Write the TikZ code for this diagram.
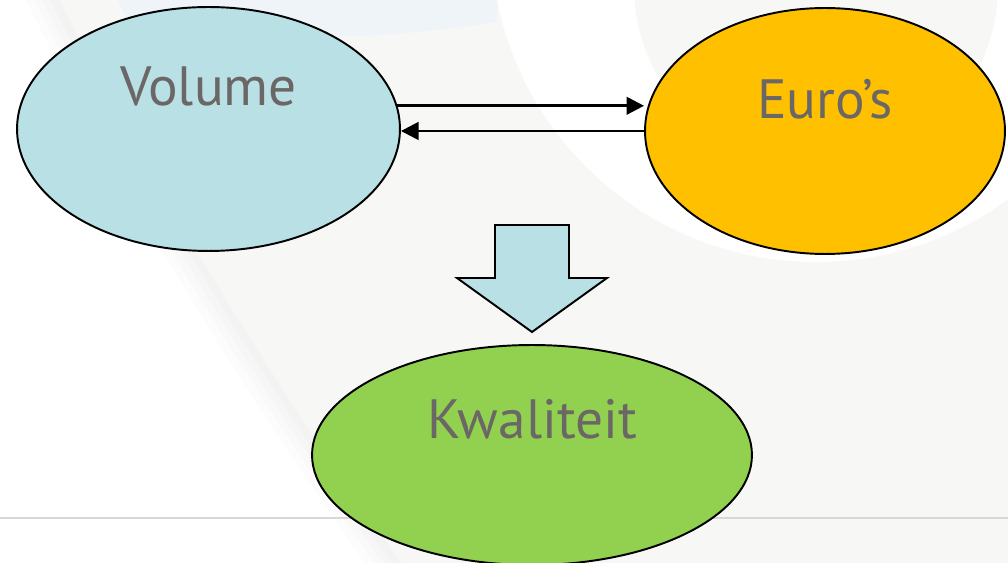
\documentclass[tikz,border=0pt]{standalone}
\usepackage{fontspec}
\setmainfont{PT Sans}
\usetikzlibrary{positioning,arrows.meta,shapes.geometric}

\definecolor{volblue}{HTML}{B9E0E4}
\definecolor{euroorange}{HTML}{FFC000}
\definecolor{kwalgreen}{HTML}{92D050}
\definecolor{txtgray}{HTML}{6B6766}
\definecolor{bggray}{HTML}{F7F7F6}
\definecolor{bandblue}{HTML}{EFF4F8}
\definecolor{rulegray}{HTML}{DCD5D5}

\begin{document}
\begin{tikzpicture}[x=0.02cm,y=-0.02cm,
  blob/.style={draw,ellipse,line width=1.1pt,inner sep=0pt},
  lbl/.style={text=txtgray,anchor=base,font=\fontsize{31.5}{36}\selectfont},
  arr/.style={line width=1.5pt,-{Triangle[length=10pt,width=10pt]}}]
\useasboundingbox (0,0) rectangle (1008,563);

% slide background
\begin{scope}
\clip (0,0) rectangle (1008,563);
\fill[white] (0,0) rectangle (1008,563);
\foreach \k in {30,22,15,8}
  \fill[black,opacity=0.012] (3821,-1899) circle (4213+\k);
\fill[bggray] (3821,-1899) circle (4213);
\fill[white] (816,-63) circle (325);
\fill[bggray] (816,-14) circle (182);
\fill[bandblue] (118,0) -- (497,0) -- (497,22) .. controls (430,32) and (380,37) .. (300,37) -- (135,37) -- cycle;
\draw[rulegray,line width=0.8pt] (0,518) -- (1008,518);
\end{scope}

% ellipses
\node[blob,fill=volblue,minimum width=7.66cm,minimum height=4.88cm] (vol) at (208.5,129) {};
\node[blob,fill=euroorange,minimum width=7.2cm,minimum height=4.92cm] (euro) at (825,131) {};
\node[blob,fill=kwalgreen,minimum width=8.8cm,minimum height=4.4cm] (kwal) at (532,455) {};

\node[lbl] (vollbl) at ([yshift=0.46cm]vol.center) {Volume};
\node[lbl] (eurolbl) at ([yshift=0.25cm]euro.center) {Euro’s};
\node[lbl] (kwallbl) at ([yshift=0.32cm]kwal.center) {Kwaliteit};

% connectors
\draw[arr] (vol.7) -- (vol.7 -| euro.west);
\draw[arr] (euro.west) -- (euro.west -| vol.east);

% block arrow
\draw[line width=1.1pt,fill=volblue,line join=miter] (495,225) -- (569,225) -- (569,278) -- (607,278)
  -- (532,332) -- (457,278) -- (495,278) -- cycle;
\end{tikzpicture}
\end{document}
